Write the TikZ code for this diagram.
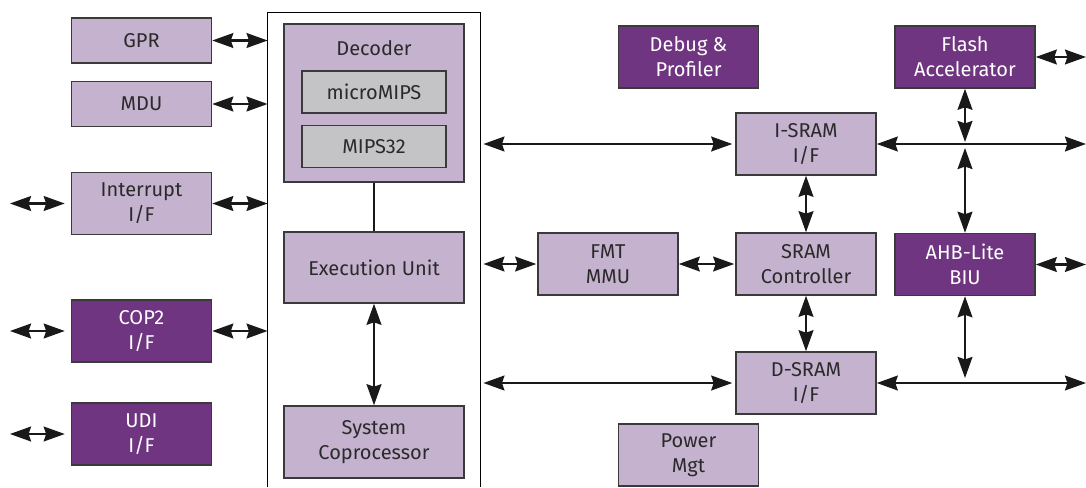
\documentclass[tikz,border=0pt]{standalone}
\usepackage{fontspec}
\setmainfont{Fira Sans}
\usetikzlibrary{arrows.meta}
\definecolor{lila}{HTML}{C5B2CF}
\definecolor{morado}{HTML}{6F3580}
\definecolor{gris}{HTML}{C4C4C6}
\definecolor{borde}{HTML}{3A3A3A}
\definecolor{texto}{HTML}{2A2A2A}
\tikzset{
  bloque/.style={draw=borde, line width=0.75pt, fill=lila, text=texto, align=center,
    inner sep=0pt, minimum width=70pt, minimum height=31pt, font=\fontsize{10}{12.5}\selectfont},
  oscuro/.style={bloque, fill=morado, text=white},
  isa/.style={bloque, fill=gris, minimum width=72pt, minimum height=21pt},
  punta/.tip={Stealth[length=10.5pt,width=7.4pt,inset=1.2pt]},
  flecha/.style={punta-punta, line width=1.15pt, draw=black!90},
}
\begin{document}
\begin{tikzpicture}[x=0.5pt, y=-0.5pt]
\useasboundingbox (0,0) rectangle (1086,487);
% Nodos
\node [bloque, minimum height=22.5pt] (GPR) at (141.5,40.5) {GPR};
\node [bloque, minimum height=22.5pt] (MDU) at (141.5,104) {MDU};
\node [bloque] (INT) at (141.5,203.5) {Interrupt\\I/F};
\node [oscuro] (COP) at (141.5,331) {COP2\\I/F};
\node [oscuro] (UDI) at (141.5,434) {UDI\\I/F};
% nucleo
\node [minimum width=106pt, minimum height=237pt, inner sep=0pt] (CORE) at (374,250) {};
\draw [line width=0.6pt, black] (CORE.south west) -- (CORE.north west) -- (CORE.north east) -- (CORE.south east);
\node [bloque, minimum width=90pt, minimum height=79pt] (DEC) at (374,103) {};
\node [text=texto, font=\fontsize{10}{12.5}\selectfont] (DECT) at (374,48) {Decoder};
\node [isa] (MM) at (374,92) {microMIPS};
\node [isa] (M32) at (374,146.5) {MIPS32};
\node [bloque, minimum width=90pt, minimum height=35.5pt] (EXE) at (374,267.5) {Execution Unit};
\node [bloque, minimum width=90pt, minimum height=36pt] (CP0) at (374,442) {System\\Coprocessor};
% derecha
\node [oscuro] (DBG) at (688.5,57) {Debug \&\\Profiler};
\node [oscuro] (FLA) at (965,57) {Flash\\Accelerator};
\node [bloque] (ISR) at (806,144) {I-SRAM\\I/F};
\node [bloque] (FMT) at (608,264) {FMT\\MMU};
\node [bloque] (SRC) at (806,264) {SRAM\\Controller};
\node [oscuro] (AHB) at (965,264.5) {AHB-Lite\\BIU};
\node [bloque] (DSR) at (806,383) {D-SRAM\\I/F};
\node [bloque] (PWR) at (688.5,455) {Power\\Mgt};
% extremos libres
\coordinate (INTin) at (10,203.5);
\coordinate (COPin) at (10,331);
\coordinate (UDIin) at (10,434);
\coordinate (FLAout) at (1086,57);
\coordinate (IBUS) at (1086,144);
\coordinate (AHBout) at (1086,264.5);
\coordinate (DBUS) at (1086,383);
% Ejes
% ---
% izquierda
% ---
\path (GPR.east) edge [flecha] (GPR.east -| CORE.west);
\path (MDU.east) edge [flecha] (MDU.east -| CORE.west);
\path (INT.east) edge [flecha] (INT.east -| CORE.west);
\path (COP.east) edge [flecha] (COP.east -| CORE.west);
\path (INTin) edge [flecha, shorten >=3pt] (INT.west);
\path (COPin) edge [flecha, shorten >=3pt] (COP.west);
\path (UDIin) edge [flecha, shorten >=3pt] (UDI.west);
% ---
% nucleo
% ---
\draw [line width=1.1pt, black!90] (DEC.south) -- (EXE.north);
\path (EXE.south) edge [flecha] (CP0.north);
% ---
% buses
% ---
\path (ISR.west -| CORE.east) edge [flecha, shorten <=1.5pt, shorten >=1.5pt] (ISR.west);
\path (FMT.west -| CORE.east) edge [flecha, shorten <=1.5pt, shorten >=0.5pt] (FMT.west);
\path (DSR.west -| CORE.east) edge [flecha, shorten <=1.5pt, shorten >=1.5pt] (DSR.west);
\path (FMT.east) edge [flecha, shorten >=0.5pt] (SRC.west);
\path (ISR.south) edge [flecha] (SRC.north);
\path (SRC.south) edge [flecha] (DSR.north);
\path (ISR.east) edge [flecha] (IBUS);
\path (DSR.east) edge [flecha] (DBUS);
\path (FLA.south) edge [flecha, shorten >=1pt] (FLA.south |- IBUS);
\path (FLA.south |- IBUS) edge [flecha, shorten <=2pt] (AHB.north);
\path (AHB.south) edge [flecha, shorten >=2.5pt] (AHB.south |- DBUS);
\path (FLA.east) edge [flecha] (FLAout);
\path (AHB.east) edge [flecha] (AHBout);
\end{tikzpicture}
\end{document}
